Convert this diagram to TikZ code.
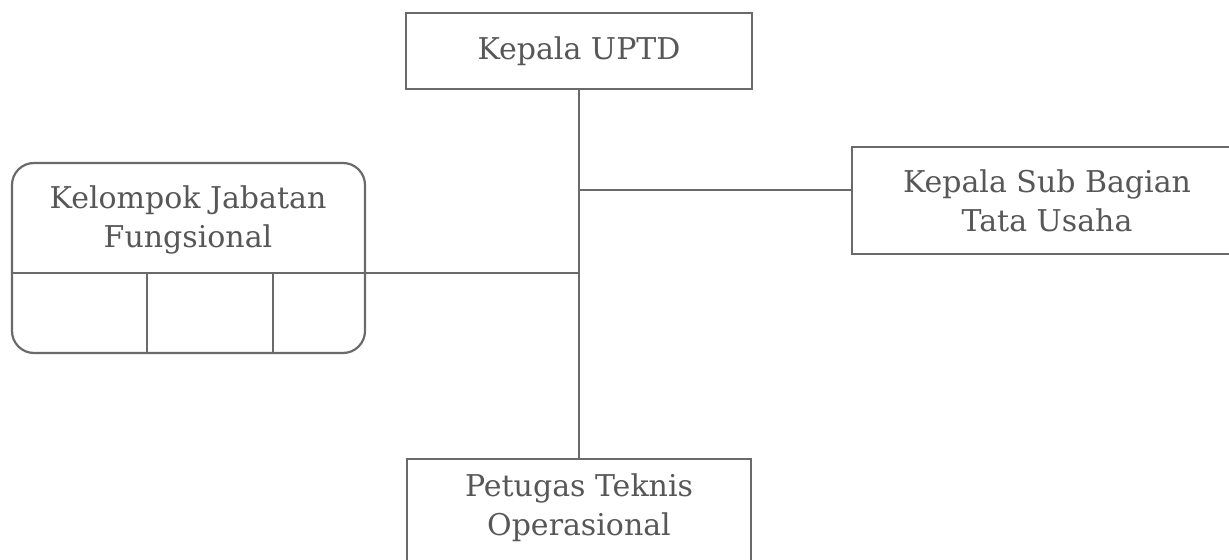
\documentclass[tikz,border=0pt]{standalone}
\usepackage{fontspec}
\setmainfont{DejaVu Serif}
\usetikzlibrary{calc}

\definecolor{garis}{HTML}{6A6A6A}
\definecolor{tulisan}{HTML}{575757}

\tikzset{
  kotak/.style={draw=garis, line width=1.1pt, text=tulisan, align=center, inner sep=0pt,
    font=\fontsize{15}{19.5}\selectfont},
  teks/.style={text=tulisan, align=center, inner sep=0pt, font=\fontsize{15}{19.5}\selectfont},
  hubung/.style={draw=garis, line width=1.1pt}
}

\begin{document}
\begin{tikzpicture}[x=0.5pt,y=-0.5pt]
    \useasboundingbox (0,0) rectangle (1229,560);
    \clip (0,0) rectangle (1229,560);

    % Boxes of the chart
    \node[kotak, minimum width=173pt, minimum height=38pt] (kepala) at (579,51) {Kepala UPTD};
    \node[kotak, minimum width=195pt, minimum height=53.5pt] (tu) at (1047,200.5) {Kepala Sub Bagian\\Tata Usaha};
    \node[kotak, rounded corners=11pt, minimum width=176.5pt, minimum height=95pt] (fungsional) at (188.5,258) {};
    \node[teks] (fungsionalteks) at (188,220) {Kelompok Jabatan\\Fungsional};
    \node[kotak, minimum width=172pt, minimum height=80pt, anchor=north] (teknis) at (579,458) {};
    \node[teks] (teknisteks) at (579,508) {Petugas Teknis\\Operasional};

    % Inner cells of the functional group
    \coordinate (bagi) at (188.5,273);
    \draw[hubung] (fungsional.west |- bagi) -- (fungsional.east |- bagi);
    \draw[hubung] (147,273) -- (fungsional.south -| 147,0);
    \draw[hubung] (273,273) -- (fungsional.south -| 273,0);

    % Main line and branches
    \coordinate (cabang) at (579,190);
    \draw[hubung] (kepala.south) -- (teknis.north);
    \draw[hubung] (kepala.south |- cabang) -- (tu.west |- cabang);
    \draw[hubung] (fungsional.east |- bagi) -- (kepala.south |- bagi);
\end{tikzpicture}
\end{document}
